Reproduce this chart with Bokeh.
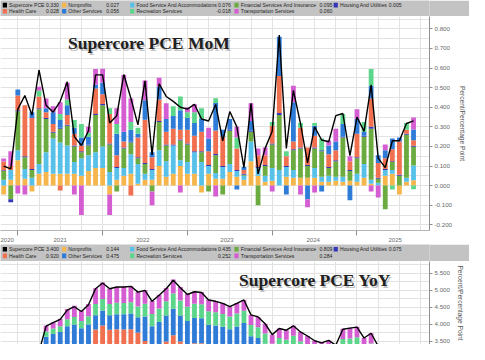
import numpy as np
from bokeh.plotting import figure
from bokeh.models import ColumnDataSource, FixedTicker, NumeralTickFormatter, Label, Range1d
from bokeh.layouts import column
from bokeh.embed import file_html
from bokeh.resources import INLINE
from bokeh.core.properties import value

# ---------------- data ----------------
years = ["2020", "2021", "2022", "2023", "2024", "2025"]
series_names = ["Nonprofits", "Food Service And Accommodations", "Financial Services And Insurance",
                "Housing And Utilities", "Health Care", "Other Services", "Recreation Services",
                "Transportation Services"]
total_name = "Supercore PCE"

# MoM contributions (Nov 2020 .. Sep 2025)
mom_nonprofits = [-0.045, 0.03, 0.13, 0.035, -0.03, 0.06, 0.07, 0.06, 0.06, 0.06,
                  0.06, 0.05, 0.075, 0.09, 0.09, -0.045, 0.03, 0.05, 0.06, 0.01,
                  0.03, 0.03, 0.10, 0.045, 0.06, 0.10, 0.06, 0.06, -0.035, 0.06,
                  0.035, 0.035, 0.07, 0.045, 0.03, 0.125, 0.05, 0.02, 0.025, 0.0,
                  0.045, 0.04, 0.04, 0.04, 0.04, 0.02, 0.02, 0.025, 0.02, 0.025,
                  0.02, 0.04, 0.01, 0.0, 0.05, 0.06, -0.045, 0.02, 0.027]
mom_food = [0.03, 0.05, 0.05, 0.05, 0.04, 0.05, 0.10, 0.18, 0.16, 0.145,
            0.06, 0.09, 0.08, 0.08, 0.11, 0.07, 0.06, 0.04, 0.10, 0.10,
            0.03, 0.05, 0.08, 0.08, 0.145, 0.03, 0.06, 0.11, 0.12, 0.04,
            0.03, 0.06, 0.04, 0.03, 0.02, 0.10, 0.04, 0.03, 0.065, 0.08,
            0.05, 0.04, 0.0, 0.0, 0.05, 0.025, 0.03, 0.02, 0.025, 0.0,
            0.04, 0.07, 0.02, 0.015, 0.03, 0.02, 0.0, 0.02, 0.076]
mom_financial = [0.045, -0.07, 0.20, 0.06, 0.04, 0.28, 0.17, 0.03, 0.07, 0.10,
                 0.08, 0.03, 0.05, 0.19, 0.21, 0.14, -0.03, 0.10, 0.06, 0.03,
                 0.05, -0.03, 0.145, 0.08, 0.0, 0.10, 0.09, 0.0, 0.05, -0.03,
                 0.09, -0.045, 0.17, 0.0, 0.005, 0.05, -0.10, 0.05, 0.12, 0.28,
                 0.0, 0.10, 0.15, 0.06, 0.10, 0.13, 0.04, 0.08, 0.20, 0.05,
                 0.08, 0.14, 0.26, 0.02, -0.12, 0.04, 0.05, 0.22, 0.095]
mom_housing = [0.003, -0.015, 0.005, 0.005, 0.005, 0.005, 0.005, 0.005, 0.005, 0.005,
               0.005, 0.005, 0.005, 0.005, 0.006, 0.005, 0.005, 0.005, 0.005, 0.005,
               0.006, 0.005, 0.005, 0.005, 0.005, 0.005, 0.005, 0.005, 0.005, 0.005,
               0.006, 0.005, 0.005, 0.005, 0.005, 0.005, 0.005, 0.005, 0.005, 0.01,
               0.005, 0.005, 0.005, 0.005, 0.005, 0.005, 0.005, 0.005, 0.005, 0.005,
               0.005, 0.005, 0.01, 0.005, 0.005, 0.005, 0.005, 0.005, 0.005]
mom_health = [0.045, 0.02, 0.075, 0.26, 0.26, 0.06, 0.03, 0.04, -0.025, 0.05,
              0.06, 0.03, 0.0, 0.13, 0.05, 0.15, 0.06, 0.03, -0.05, 0.10,
              0.22, 0.06, 0.11, 0.065, 0.08, 0.05, 0.07, 0.08, 0.10, 0.07,
              0.12, 0.15, 0.0, 0.11, 0.02, 0.0, 0.06, 0.05, 0.09, 0.19,
              0.05, 0.04, 0.10, 0.09, 0.06, 0.0, 0.065, 0.05, 0.0, 0.045,
              0.12, 0.0, 0.145, 0.075, 0.055, 0.06, 0.17, 0.02, 0.028]
mom_other = [0.0, 0.0, 0.03, 0.0, 0.03, 0.0, 0.02, 0.06, 0.04, 0.05,
             0.03, 0.04, 0.04, 0.02, 0.06, 0.0, 0.11, 0.05, 0.06, 0.02,
             0.10, 0.025, 0.065, 0.065, 0.065, 0.10, 0.06, 0.065, 0.065, 0.065,
             0.14, 0.035, 0.055, -0.02, 0.015, 0.05, 0.0, 0.0, 0.0, 0.20,
             -0.045, 0.20, 0.0, -0.07, 0.05, -0.03, 0.045, 0.045, 0.065, -0.075,
             0.075, 0.02, 0.065, 0.04, 0.04, 0.055, 0.02, 0.0, 0.056]
mom_recreation = [0.0, 0.0, 0.0, 0.0, 0.0, 0.03, 0.0, 0.0, 0.03, 0.03,
                  0.04, 0.07, 0.02, 0.0, 0.0, 0.03, 0.05, 0.0, 0.04, 0.03,
                  0.0, 0.0, 0.0, 0.0, 0.05, 0.07, 0.03, 0.055, 0.055, 0.0,
                  0.025, 0.0, 0.0, 0.055, 0.0, 0.0, 0.0, 0.0, 0.02, 0.0,
                  0.025, 0.0, 0.025, 0.0, 0.015, 0.06, 0.0, 0.0, 0.05, 0.0,
                  0.0, 0.05, 0.085, 0.0, 0.0, -0.02, 0.0, 0.035, -0.018]
mom_transport = [0.016, 0.075, -0.04, -0.045, 0.0, 0.02, 0.05, 0.03, 0.06, 0.085,
                 -0.045, -0.15, 0.03, 0.08, 0.07, -0.105, 0.08, 0.29, 0.12, 0.0,
                 0.10, -0.07, 0.045, 0.08, 0.0, -0.035, 0.025, 0.04, 0.0, 0.055,
                 -0.055, 0.0, 0.0, 0.055, 0.0, 0.09, 0.035, 0.04, -0.03, 0.0,
                 0.0, 0.085, -0.045, -0.04, -0.035, 0.0, 0.025, 0.065, 0.0, 0.025,
                 0.05, 0.0, -0.03, -0.06, 0.03, 0.0, 0.0, 0.0, 0.060]
mom_total = [0.100, 0.085, 0.39, 0.46, 0.36, 0.59, 0.41, 0.375, 0.43, 0.53,
             0.25, 0.205, 0.28, 0.565, 0.565, 0.32, 0.357, 0.567, 0.446, 0.31,
             0.535, 0.156, 0.52, 0.455, 0.43, 0.40, 0.39, 0.415, 0.34, 0.33,
             0.414, 0.229, 0.378, 0.30, 0.092, 0.42, 0.06, 0.19, 0.277, 0.768,
             0.19, 0.486, 0.317, 0.116, 0.30, 0.233, 0.224, 0.357, 0.368, 0.153,
             0.35, 0.277, 0.514, 0.14, 0.092, 0.229, 0.229, 0.317, 0.330]

# YoY contributions
yoy_nonprofits = [0.12, 0.12, 0.13, 0.13, 0.13, 0.14, 0.15, 0.15, 0.15, 0.16,
                  0.16, 0.15, 0.15, 0.15, 0.15, 0.14, 0.14, 0.14, 0.14, 0.14,
                  0.14, 0.14, 0.14, 0.15, 0.15, 0.15, 0.15, 0.14, 0.14, 0.14,
                  0.14, 0.14, 0.14, 0.14, 0.14, 0.14, 0.14, 0.14, 0.14, 0.14,
                  0.14, 0.14, 0.14, 0.14, 0.14, 0.14, 0.14, 0.14, 0.15, 0.15,
                  0.15, 0.14, 0.14, 0.14, 0.14, 0.14, 0.14, 0.14, 0.144]
yoy_food = [0.30, 0.30, 0.30, 0.30, 0.30, 0.30, 0.30, 0.30, 0.31, 0.31,
            0.31, 0.31, 0.31, 0.55, 0.55, 0.55, 0.55, 0.55, 0.55, 0.55,
            0.55, 0.55, 0.55, 0.55, 0.55, 0.55, 0.55, 0.55, 0.55, 0.55,
            0.55, 0.55, 0.55, 0.55, 0.45, 0.45, 0.45, 0.45, 0.45, 0.45,
            0.45, 0.45, 0.45, 0.45, 0.45, 0.45, 0.45, 0.45, 0.45, 0.45,
            0.45, 0.45, 0.45, 0.45, 0.44, 0.44, 0.44, 0.44, 0.435]
yoy_financial = [1.10, 1.14, 1.08, 1.13, 1.36, 1.51, 2.11, 2.13, 2.14, 2.23,
                 2.23, 2.16, 2.21, 2.12, 2.19, 2.09, 2.11, 2.12, 2.13, 2.09,
                 1.93, 1.72, 1.79, 1.93, 2.09, 1.93, 1.82, 1.91, 1.91, 1.75,
                 1.75, 1.73, 1.69, 1.75, 1.91, 1.60, 1.57, 1.44, 1.23, 1.34,
                 1.31, 1.39, 1.26, 1.18, 1.08, 1.04, 1.07, 1.00, 1.24, 1.25,
                 1.25, 1.06, 1.14, 0.89, 0.79, 0.74, 0.76, 0.78, 0.809]
yoy_housing = [0.07, 0.07, 0.07, 0.07, 0.08, 0.08, 0.08, 0.08, 0.08, 0.08,
               0.08, 0.08, 0.08, 0.08, 0.08, 0.08, 0.08, 0.08, 0.08, 0.08,
               0.09, 0.09, 0.09, 0.09, 0.09, 0.09, 0.09, 0.09, 0.09, 0.09,
               0.09, 0.09, 0.09, 0.09, 0.08, 0.08, 0.08, 0.08, 0.08, 0.08,
               0.08, 0.08, 0.08, 0.08, 0.08, 0.08, 0.08, 0.08, 0.08, 0.08,
               0.08, 0.08, 0.08, 0.08, 0.08, 0.08, 0.08, 0.08, 0.075]
yoy_health = [0.40, 0.42, 0.40, 0.42, 0.45, 0.50, 0.55, 0.58, 0.60, 0.62,
              0.64, 0.63, 0.65, 0.95, 1.00, 0.98, 0.98, 0.96, 0.96, 0.90,
              0.80, 0.75, 0.76, 0.78, 0.80, 0.78, 0.75, 0.76, 0.76, 0.74,
              0.73, 0.72, 0.70, 0.71, 0.78, 0.76, 0.76, 0.74, 0.70, 0.74,
              0.74, 0.78, 0.76, 0.75, 0.74, 0.74, 0.75, 0.73, 0.86, 0.87,
              0.88, 0.84, 0.86, 0.82, 0.82, 0.84, 0.88, 0.90, 0.920]
yoy_other = [0.30, 0.32, 0.33, 0.35, 0.38, 0.40, 0.45, 0.48, 0.50, 0.55,
             0.58, 0.56, 0.60, 0.42, 0.44, 0.43, 0.44, 0.45, 0.46, 0.45,
             0.72, 0.70, 0.74, 0.76, 0.78, 0.76, 0.74, 0.74, 0.73, 0.72,
             0.71, 0.70, 0.69, 0.70, 0.68, 0.62, 0.60, 0.58, 0.55, 0.56,
             0.55, 0.55, 0.54, 0.53, 0.52, 0.51, 0.52, 0.50, 0.52, 0.52,
             0.53, 0.50, 0.51, 0.48, 0.47, 0.46, 0.47, 0.47, 0.475]
yoy_recreation = [0.05, 0.06, 0.07, 0.08, 0.10, 0.12, 0.15, 0.16, 0.17, 0.20,
                  0.22, 0.21, 0.24, 0.33, 0.34, 0.33, 0.34, 0.33, 0.33, 0.32,
                  0.38, 0.36, 0.40, 0.42, 0.45, 0.44, 0.42, 0.42, 0.41, 0.40,
                  0.39, 0.38, 0.37, 0.38, 0.36, 0.33, 0.32, 0.30, 0.28, 0.29,
                  0.28, 0.28, 0.27, 0.26, 0.25, 0.24, 0.25, 0.24, 0.27, 0.27,
                  0.28, 0.25, 0.26, 0.24, 0.24, 0.24, 0.25, 0.25, 0.252]
yoy_transport = [0.08, 0.09, 0.10, 0.12, 0.14, 0.15, 0.17, 0.18, 0.22, 0.30,
                 0.33, 0.30, 0.36, 0.46, 0.48, 0.45, 0.46, 0.47, 0.47, 0.42,
                 0.40, 0.38, 0.40, 0.39, 0.41, 0.40, 0.38, 0.36, 0.36, 0.34,
                 0.33, 0.32, 0.30, 0.31, 0.32, 0.30, 0.30, 0.29, 0.27, 0.28,
                 0.28, 0.29, 0.28, 0.27, 0.26, 0.26, 0.27, 0.25, 0.30, 0.31,
                 0.31, 0.28, 0.30, 0.26, 0.26, 0.25, 0.27, 0.28, 0.284]
yoy_total = [2.45, 2.55, 2.50, 2.62, 2.95, 3.20, 3.95, 4.05, 4.15, 4.42,
             4.52, 4.38, 4.58, 5.05, 5.22, 5.05, 5.10, 5.10, 5.12, 4.95,
             5.00, 4.68, 4.86, 5.05, 5.30, 5.08, 4.88, 4.96, 4.94, 4.72,
             4.68, 4.62, 4.52, 4.62, 4.72, 4.28, 4.22, 4.02, 3.70, 3.88,
             3.83, 3.96, 3.78, 3.66, 3.52, 3.46, 3.53, 3.39, 3.86, 3.89,
             3.92, 3.60, 3.74, 3.36, 3.25, 3.20, 3.30, 3.35, 3.40]

mom_comps = [mom_nonprofits, mom_food, mom_financial, mom_housing, mom_health,
             mom_other, mom_recreation, mom_transport]
yoy_comps = [yoy_nonprofits, yoy_food, yoy_financial, yoy_housing, yoy_health,
             yoy_other, yoy_recreation, yoy_transport]

# ---------------- style ----------------
colors = ["#F6B64C", "#57C1EA", "#6CAB40", "#3636B8", "#F0704F", "#2F7BD8", "#5CD68A", "#D45ED1"]
tag_text = ["#222222", "#0b2636", "#ffffff", "#ffffff", "#ffffff", "#ffffff", "#1b3322", "#ffffff"]
STRIP = "#c3c3c3"
GRID = "#e2e2e2"
W = 469
FRAME_W = 430
RIGHT = W - FRAME_W
X0, X1 = -0.45, 60.26
BAR_W = 0.68
idx = np.arange(len(mom_total))


def stacked(p, comps):
    n = len(comps[0])
    pos = np.zeros(n)
    neg = np.zeros(n)
    ends = []
    for vals, col in zip(comps, colors):
        v = np.array(vals, dtype=float)
        bottom = np.where(v >= 0, pos, neg)
        top = bottom + v
        pos = np.where(v >= 0, top, pos)
        neg = np.where(v < 0, top, neg)
        src = ColumnDataSource(dict(x=idx, bottom=bottom, top=top))
        p.vbar(x="x", bottom="bottom", top="top", width=BAR_W, fill_color=col,
               line_color=None, source=src)
        ends.append(top)
    return ends


def style_axes(p, yticks, ygrid):
    p.outline_line_color = None
    p.background_fill_color = "white"
    p.border_fill_color = "white"
    p.xgrid.ticker = FixedTicker(ticks=list(range(-1, 62, 3)))
    p.ygrid.ticker = FixedTicker(ticks=ygrid)
    p.xgrid.grid_line_color = GRID
    p.ygrid.grid_line_color = GRID
    ax = p.yaxis[0]
    ax.ticker = FixedTicker(ticks=yticks)
    ax.formatter = NumeralTickFormatter(format="0.000")
    ax.major_label_text_font = "Liberation Sans"
    ax.major_label_text_font_size = "6.2px"
    ax.major_label_text_color = "#6a6a6a"
    ax.axis_line_color = "#8f8f8f"
    ax.major_tick_line_color = "#8f8f8f"
    ax.major_tick_out = 3
    ax.major_tick_in = 0
    ax.minor_tick_line_color = None
    ax.major_label_standoff = 2
    ax.axis_label = "Percent/Percentage Point"
    ax.axis_label_text_font = "Liberation Sans"
    ax.axis_label_text_font_size = "6.6px"
    ax.axis_label_text_font_style = "normal"
    ax.axis_label_text_color = "#555555"
    ax.axis_label_standoff = 4


def legend_strip(height, comps, total, row_y):
    p = figure(width=W, height=height, x_range=Range1d(0, W), y_range=Range1d(0, height),
               output_backend="svg", toolbar_location=None, min_border=0,
               x_axis_location=None, y_axis_location=None)
    p.grid.visible = False
    p.outline_line_color = None
    p.background_fill_color = STRIP
    p.border_fill_color = STRIP
    sq_x = [4.8, 69.6, 144.0, 258.0, 366.5]
    nm_x = [9.4, 74.2, 148.6, 262.6, 371.2]
    vl_x = [63.8, 129.6, 251.8, 362.8, 438.5]
    slots = [(0, 0), (1, 0), (2, 0), (3, 0), (4, 0), (0, 1), (1, 1), (2, 1), (3, 1)]
    names = [total_name] + series_names
    cols = ["#000000"] + colors
    vals = [total[-1]] + [c[-1] for c in comps]
    data = dict(sx=[], nx=[], vx=[], y=[], name=[], val=[], col=[])
    for (c, r), nm, cl, v in zip(slots, names, cols, vals):
        data["sx"].append(sq_x[c])
        data["nx"].append(nm_x[c])
        data["vx"].append(vl_x[c])
        data["y"].append(row_y[r])
        data["name"].append(nm)
        data["val"].append(f"{v:.3f}")
        data["col"].append(cl)
    src = ColumnDataSource(data)
    p.rect(x="sx", y="y", width=4.6, height=4.6, fill_color="col", line_color=None, source=src)
    p.text(x="nx", y="y", text="name", text_font=value("Liberation Sans"), text_font_size="5.1px",
           text_baseline="middle", text_align="left", text_color="#1e1e1e", source=src)
    p.text(x="vx", y="y", text="val", text_font=value("Liberation Sans"), text_font_size="5.1px",
           text_baseline="middle", text_align="right", text_color="#1e1e1e", source=src)
    return p


def add_title(p, x, y, txt):
    p.add_layout(Label(x=x, y=y, x_offset=1.5, y_offset=-1.5, text=txt, text_font="Liberation Serif",
                       text_font_style="bold", text_font_size="17.5px", text_color="#8c8c8c",
                       text_alpha=0.55, text_baseline="middle"))
    p.add_layout(Label(x=x, y=y, text=txt, text_font="Liberation Serif", text_font_style="bold",
                       text_font_size="17.5px", text_color="#202020", text_baseline="middle"))


def add_tag(p, y, txt, bg, fg):
    p.add_layout(Label(x=X1 + 0.55, y=y, text=txt, text_font="Liberation Sans", text_font_size="5.6px",
                       text_color=fg, text_baseline="middle", text_align="left",
                       background_fill_color=bg, padding=2))


# ---------------- legend 1 ----------------
leg1 = legend_strip(16, mom_comps, mom_total, [11.4, 5.2])

# ---------------- MoM panel ----------------
p1 = figure(width=W, height=228, x_range=Range1d(X0, X1), y_range=Range1d(-0.229, 0.863),
            y_axis_location="right", output_backend="svg", toolbar_location=None,
            min_border_left=0, min_border_top=0, min_border_bottom=12, min_border_right=RIGHT)
style_axes(p1, [-0.2, -0.1, 0.0, 0.1, 0.2, 0.3, 0.4, 0.5, 0.6, 0.7, 0.8],
           [round(-0.2 + 0.05 * k, 2) for k in range(22)])
ends1 = stacked(p1, mom_comps)
p1.line(idx, mom_total, line_color="black", line_width=1.4)

label_pos = [0.5, 8.0, 19.7, 31.6, 43.8, 55.4]
xa = p1.xaxis[0]
xa.ticker = FixedTicker(ticks=label_pos, minor_ticks=[2, 14, 26, 38, 50])
xa.major_label_overrides = {t: y for t, y in zip(label_pos, years)}
xa.major_tick_line_color = None
xa.major_tick_out = 2
xa.minor_tick_line_color = "#8f8f8f"
xa.minor_tick_out = 5
xa.minor_tick_in = 0
xa.axis_line_color = "#b5b5b5"
xa.major_label_standoff = 2
xa.major_label_text_font = "Liberation Sans"
xa.major_label_text_font_size = "6px"
xa.major_label_text_color = "#6a6a6a"

add_title(p1, 9.1, 0.727, "Supercore PCE MoM")

# value tags on right axis (financial first so housing covers it, transport under total)
order = [2, 7, None, 5, 4, 3, 1, 0, 6]
for k in order:
    if k is None:
        add_tag(p1, mom_total[-1], f"{mom_total[-1]:.3f}", "#000000", "#ffffff")
    else:
        add_tag(p1, ends1[k][-1], f"{mom_comps[k][-1]:.3f}", colors[k], tag_text[k])

# ---------------- legend 2 ----------------
leg2 = legend_strip(17, yoy_comps, yoy_total, [12.3, 5.6])

# ---------------- YoY panel ----------------
p2 = figure(width=W, height=83, x_range=p1.x_range, y_range=Range1d(3.41, 5.85),
            y_axis_location="right", x_axis_location=None, output_backend="svg",
            toolbar_location=None, min_border_left=0, min_border_top=0, min_border_bottom=0,
            min_border_right=RIGHT)
style_axes(p2, [3.5, 4.0, 4.5, 5.0, 5.5], [3.5 + 0.25 * k for k in range(10)])
stacked(p2, yoy_comps)
p2.line(idx, yoy_total, line_color="black", line_width=1.4)
add_title(p2, 33.3, 5.30, "Supercore PCE YoY")
add_tag(p2, yoy_total[-1] + 0.08, f"{yoy_total[-1]:.3f}", "#000000", "#ffffff")

layout = column(leg1, p1, leg2, p2, spacing=0)
open("out.html", "w").write(file_html(layout, INLINE))
